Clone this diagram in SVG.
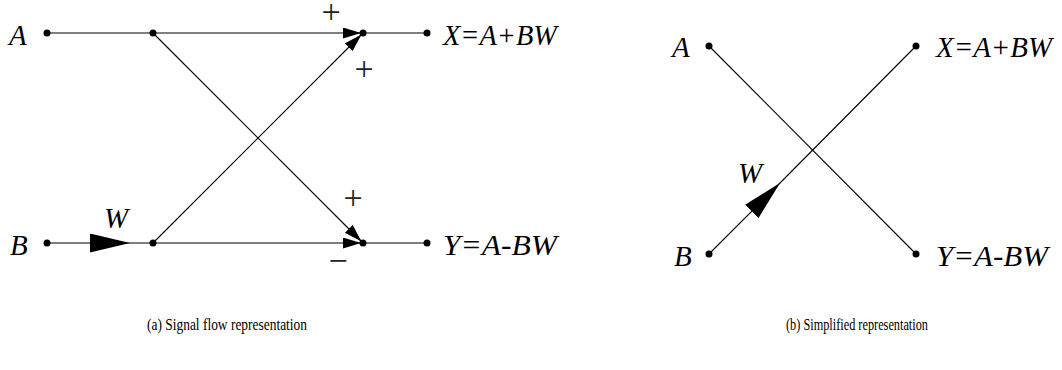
<svg xmlns="http://www.w3.org/2000/svg" width="1062" height="370" viewBox="0 0 1062 370">
<defs>
<style>
.lbl{font-family:"Liberation Serif","Times New Roman",serif;font-style:italic;font-size:29px;fill:#000}
.sign{font-family:"Liberation Serif","Times New Roman",serif;font-size:34px;fill:#222;text-anchor:middle}
.cap{font-family:"Liberation Serif","Times New Roman",serif;font-size:16.5px;fill:#000}
.ln{stroke:#000;stroke-width:1.1;fill:none}
.dot{fill:#000}
</style>
<marker id="sm" markerUnits="userSpaceOnUse" markerWidth="20" markerHeight="12" refX="18" refY="5.5" orient="auto">
<path d="M0,0 L18,5.5 L0,11 Z" fill="#000"/>
</marker>
<marker id="big" markerUnits="userSpaceOnUse" markerWidth="42" markerHeight="20" refX="40" refY="9.5" orient="auto">
<path d="M0,0 L40,9.5 L0,19 Z" fill="#000"/>
</marker>
</defs>
<rect width="1062" height="370" fill="#fff"/>
<g id="connectors">
<path class="ln" d="M47,33 L153,33"/>
<path class="ln" d="M153,33 L361,33" marker-end="url(#sm)"/>
<path class="ln" d="M363,33 L427,33"/>
<path class="ln" d="M153,33 L361.5,241.5" marker-end="url(#sm)"/>
<path class="ln" d="M153,243 L361.5,34.5" marker-end="url(#sm)"/>
<path class="ln" d="M47,243 L130,243 L153,243" marker-mid="url(#big)"/>
<path class="ln" d="M153,243 L361,243" marker-end="url(#sm)"/>
<path class="ln" d="M363,243 L427,243"/>
<path class="ln" d="M709,46 L916,254"/>
<path class="ln" d="M709,254 L780,183 L916,46" marker-mid="url(#big)"/>
</g>
<g id="nodeA1"><circle class="dot" cx="47" cy="33" r="3.5"/><text class="lbl" x="9" y="45">A</text></g>
<g id="nodeS1"><circle class="dot" cx="153" cy="33" r="3.5"/></g>
<g id="nodeSumX"><circle class="dot" cx="363" cy="33" r="3.5"/></g>
<g id="nodeX1"><circle class="dot" cx="427" cy="33" r="3.5"/><text class="lbl" x="443" y="45" textLength="114" lengthAdjust="spacingAndGlyphs">X=A+BW</text></g>
<g id="nodeB1"><circle class="dot" cx="47" cy="243" r="3.5"/><text class="lbl" x="10" y="255">B</text></g>
<g id="nodeS2"><circle class="dot" cx="153" cy="243" r="3.5"/></g>
<g id="nodeSumY"><circle class="dot" cx="363" cy="243" r="3.5"/></g>
<g id="nodeY1"><circle class="dot" cx="427" cy="243" r="3.5"/><text class="lbl" x="443" y="255" textLength="114" lengthAdjust="spacingAndGlyphs">Y=A-BW</text></g>
<g id="labels1">
<text class="lbl" x="104" y="228">W</text>
<text class="sign" x="331" y="23">+</text>
<text class="sign" x="364" y="80">+</text>
<text class="sign" x="353" y="209">+</text>
<text class="sign" x="338" y="272">−</text>
</g>
<g id="nodeA2"><circle class="dot" cx="709" cy="46" r="3.5"/><text class="lbl" x="672" y="57">A</text></g>
<g id="nodeX2"><circle class="dot" cx="916" cy="46" r="3.5"/><text class="lbl" x="936" y="57" textLength="116" lengthAdjust="spacingAndGlyphs">X=A+BW</text></g>
<g id="nodeB2"><circle class="dot" cx="709" cy="254" r="3.5"/><text class="lbl" x="674" y="266">B</text></g>
<g id="nodeY2"><circle class="dot" cx="916" cy="254" r="3.5"/><text class="lbl" x="936" y="266" textLength="112" lengthAdjust="spacingAndGlyphs">Y=A-BW</text></g>
<text class="lbl" x="738" y="183">W</text>
<text class="cap" x="147" y="330" textLength="160" lengthAdjust="spacingAndGlyphs">(a) Signal flow representation</text>
<text class="cap" x="786" y="330" textLength="142" lengthAdjust="spacingAndGlyphs">(b) Simplified representation</text>
</svg>
